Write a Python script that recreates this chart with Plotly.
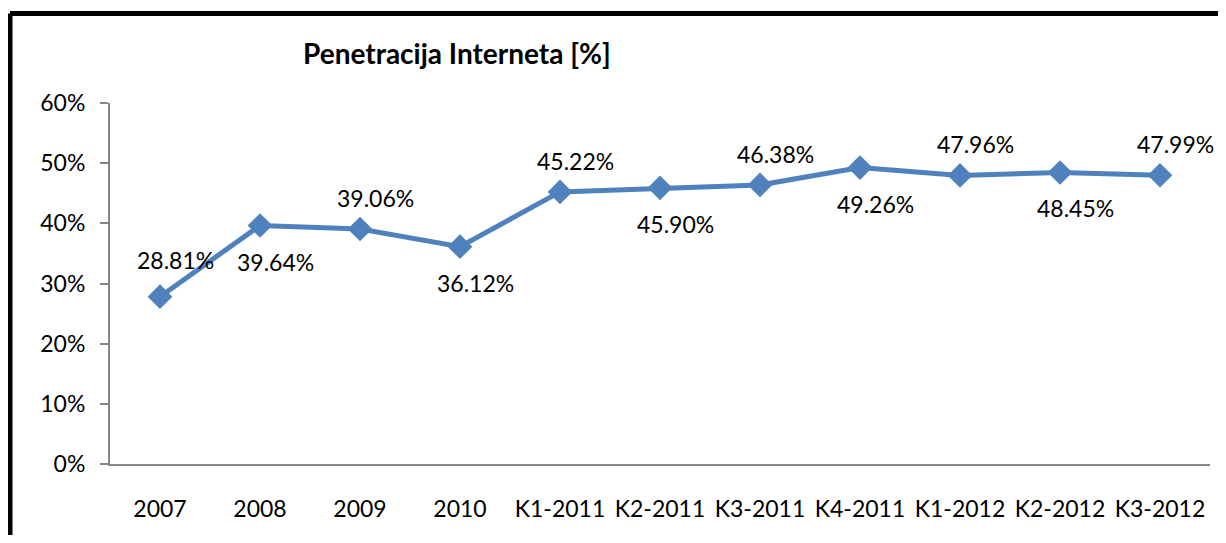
import plotly.graph_objects as go

categories = ["2007", "2008", "2009", "2010", "K1-2011", "K2-2011", "K3-2011",
              "K4-2011", "K1-2012", "K2-2012", "K3-2012"]
values = [27.81, 39.64, 39.06, 36.12, 45.22, 45.90, 46.38, 49.26, 47.96, 48.45, 47.99]
label_texts = ["28.81%", "39.64%", "39.06%", "36.12%", "45.22%", "45.90%", "46.38%",
               "49.26%", "47.96%", "48.45%", "47.99%"]
label_above = [True, False, True, False, True, False, True, False, True, False, True]
y_ticks = [0, 10, 20, 30, 40, 50, 60]
y_tick_labels = ["0%", "10%", "20%", "30%", "40%", "50%", "60%"]

FONT = "Lato"
BLUE = "#4F81BD"
AXIS = "#868686"

# figure is drawn inside the page's default 8px body margin
W, H = 1218, 527
L, T, PW, PH = 102, 95, 1100, 361

fig = go.Figure()
fig.add_trace(go.Scatter(
    x=categories, y=values, mode="lines+markers",
    line=dict(color=BLUE, width=5),
    marker=dict(symbol="diamond", size=19, color=BLUE),
    hoverinfo="skip", showlegend=False,
))

for i, (v, t, up) in enumerate(zip(values, label_texts, label_above)):
    fig.add_annotation(
        x=i, y=v, text=t, showarrow=False,
        xanchor="center", yanchor="middle",
        xshift=15, yshift=(37 if i == 0 else 31) if up else -36,
        font=dict(family=FONT, size=23, color="#000000"),
    )

fig.add_annotation(
    xref="paper", yref="paper", x=(449 - L) / PW, y=1 + (T - 45) / PH,
    xanchor="center", yanchor="middle",
    text="<b>Penetracija Interneta [%]</b>", showarrow=False,
    font=dict(family=FONT, size=28, color="#000000"),
)

# outer chart border (top and left edges visible in the reference)
bx = (2 - L) / PW
by = 1 + (T - 5.5) / PH
fig.add_shape(type="line", xref="paper", yref="paper",
              x0=bx, x1=(W + 20 - L) / PW, y0=by, y1=by,
              line=dict(color="#000000", width=5))
fig.add_shape(type="line", xref="paper", yref="paper",
              x0=bx, x1=bx, y0=by, y1=-(H + 20 - T - PH) / PH,
              line=dict(color="#000000", width=5))

fig.update_layout(
    width=W, height=H,
    margin=dict(l=L, r=W - L - PW, t=T, b=H - T - PH),
    paper_bgcolor="white", plot_bgcolor="white",
    font=dict(family=FONT, size=23, color="#000000"),
    xaxis=dict(
        type="category", range=[-0.5, 10.5],
        showline=True, linecolor=AXIS, linewidth=2,
        showgrid=False, zeroline=False, ticks="",
        tickfont=dict(family=FONT, size=23, color="#000000"),
        ticklabelstandoff=23,
    ),
    yaxis=dict(
        range=[0, 60], tickvals=y_ticks, ticktext=y_tick_labels,
        showline=True, linecolor=AXIS, linewidth=2,
        showgrid=False, zeroline=False,
        ticks="outside", ticklen=8, tickcolor=AXIS, tickwidth=2,
        ticklabelstandoff=10,
        tickfont=dict(family=FONT, size=23, color="#000000"),
    ),
)

fig.write_html("out.html")
